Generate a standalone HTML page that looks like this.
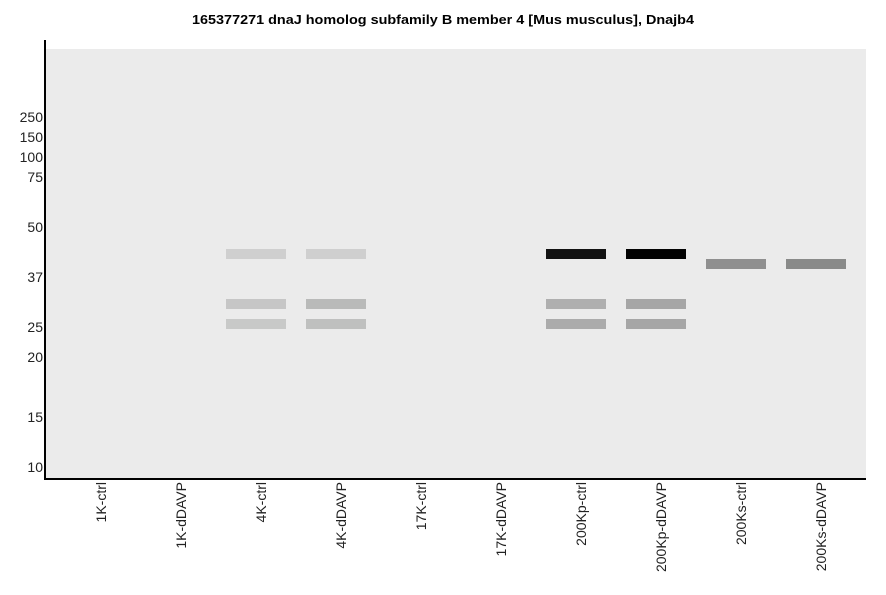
<!DOCTYPE html>
<html>
<head>
<meta charset="utf-8">
<style>
html,body{margin:0;padding:0;background:#fff;}
svg{display:block;}
text{font-family:"Liberation Sans",Arial,sans-serif;}
</style>
</head>
<body>
<svg width="886" height="595" viewBox="0 0 886 595" xmlns="http://www.w3.org/2000/svg">
<rect x="0" y="0" width="886" height="595" fill="#ffffff"/>
<text x="443" y="24" text-anchor="middle" font-size="12.5" font-weight="bold" fill="#000" textLength="502" lengthAdjust="spacingAndGlyphs">165377271 dnaJ homolog subfamily B member 4 [Mus musculus], Dnajb4</text>
<rect x="46" y="49" width="820" height="429" fill="#ebebeb"/>
<!-- bands -->
<rect x="226" y="249" width="60" height="10" fill="#cfcfcf"/>
<rect x="226" y="299" width="60" height="10" fill="#c6c6c6"/>
<rect x="226" y="319" width="60" height="10" fill="#c8c9c8"/>
<rect x="306" y="249" width="60" height="10" fill="#cfcfcf"/>
<rect x="306" y="299" width="60" height="10" fill="#b9bab9"/>
<rect x="306" y="319" width="60" height="10" fill="#bfc0bf"/>
<rect x="546" y="249" width="60" height="10" fill="#121212"/>
<rect x="546" y="299" width="60" height="10" fill="#afafaf"/>
<rect x="546" y="319" width="60" height="10" fill="#ababab"/>
<rect x="626" y="249" width="60" height="10" fill="#020202"/>
<rect x="626" y="299" width="60" height="10" fill="#a6a6a6"/>
<rect x="626" y="319" width="60" height="10" fill="#a6a6a6"/>
<rect x="706" y="259" width="60" height="10" fill="#8f8f8f"/>
<rect x="786" y="259" width="60" height="10" fill="#898a89"/>
<!-- axes -->
<rect x="44" y="40" width="2" height="440" fill="#000"/>
<rect x="44" y="478" width="822" height="2" fill="#000"/>
<!-- y labels -->
<g font-size="14" fill="#222" text-anchor="end">
<text x="43" y="122">250</text>
<text x="43" y="142">150</text>
<text x="43" y="162">100</text>
<text x="43" y="182">75</text>
<text x="43" y="232">50</text>
<text x="43" y="282">37</text>
<text x="43" y="332">25</text>
<text x="43" y="362">20</text>
<text x="43" y="422">15</text>
<text x="43" y="472">10</text>
</g>
<!-- x labels -->
<g font-size="14" fill="#222" text-anchor="end">
<text transform="translate(106,482) rotate(-90)">1K-ctrl</text>
<text transform="translate(186,482) rotate(-90)">1K-dDAVP</text>
<text transform="translate(266,482) rotate(-90)">4K-ctrl</text>
<text transform="translate(346,482) rotate(-90)">4K-dDAVP</text>
<text transform="translate(426,482) rotate(-90)">17K-ctrl</text>
<text transform="translate(506,482) rotate(-90)">17K-dDAVP</text>
<text transform="translate(586,482) rotate(-90)">200Kp-ctrl</text>
<text transform="translate(666,482) rotate(-90)">200Kp-dDAVP</text>
<text transform="translate(746,482) rotate(-90)">200Ks-ctrl</text>
<text transform="translate(826,482) rotate(-90)">200Ks-dDAVP</text>
</g>
</svg>
</body>
</html>
